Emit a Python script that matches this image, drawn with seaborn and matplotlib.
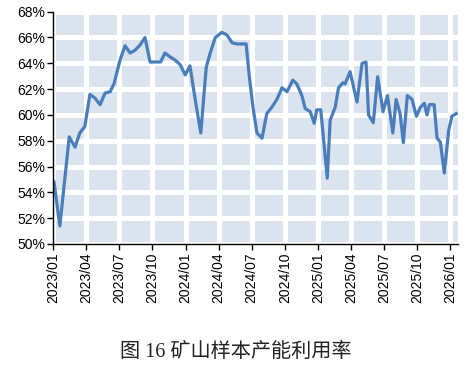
import pandas as pd
import matplotlib
matplotlib.use("Agg")
import matplotlib.pyplot as plt
import matplotlib.dates as mdates
from matplotlib.ticker import FuncFormatter
import seaborn as sns

# Values (weekly series, %)
dates = [
    "2023-01-03", "2023-01-19", "2023-02-14", "2023-03-02", "2023-03-15", "2023-03-29",
    "2023-04-12", "2023-04-26", "2023-05-10", "2023-05-24", "2023-06-07", "2023-06-18",
    "2023-07-04", "2023-07-18", "2023-08-01", "2023-08-14", "2023-08-28", "2023-09-11",
    "2023-09-25", "2023-10-08", "2023-10-24", "2023-11-05", "2023-11-19", "2023-12-03",
    "2023-12-17", "2023-12-31", "2024-01-13", "2024-01-27", "2024-02-12", "2024-02-27",
    "2024-03-09", "2024-03-23", "2024-04-10", "2024-04-24", "2024-05-08", "2024-05-22",
    "2024-06-02", "2024-06-16", "2024-06-25", "2024-07-05", "2024-07-16", "2024-07-30",
    "2024-08-12", "2024-08-26", "2024-09-09", "2024-09-23", "2024-10-07", "2024-10-23",
    "2024-11-03", "2024-11-17", "2024-11-26", "2024-12-10", "2024-12-21", "2024-12-28",
    "2025-01-08", "2025-01-26", "2025-02-03", "2025-02-17", "2025-02-26", "2025-03-10",
    "2025-03-16", "2025-03-30", "2025-04-18", "2025-05-02", "2025-05-13", "2025-05-20",
    "2025-06-02", "2025-06-14", "2025-06-29", "2025-07-11", "2025-07-26", "2025-08-04",
    "2025-08-15", "2025-08-24", "2025-09-04", "2025-09-17", "2025-09-29", "2025-10-10",
    "2025-10-21", "2025-10-28", "2025-11-04", "2025-11-17", "2025-11-25", "2025-12-04",
    "2025-12-15", "2025-12-27", "2026-01-05", "2026-01-17",
]
rate = [
    54.8, 51.4, 58.3, 57.5, 58.6, 59.1,
    61.6, 61.3, 60.8, 61.7, 61.8, 62.45,
    64.25, 65.36, 64.8, 65.0, 65.4, 66.0,
    64.1, 64.1, 64.1, 64.8, 64.5, 64.25,
    63.9, 63.1, 63.8, 61.3, 58.6, 63.7,
    64.8, 66.0, 66.4, 66.2, 65.6, 65.5,
    65.5, 65.5, 62.96, 60.6, 58.6, 58.2,
    60.1, 60.6, 61.2, 62.1, 61.8, 62.7,
    62.4, 61.5, 60.5, 60.25, 59.35, 60.4,
    60.4, 55.1, 59.6, 60.6, 62.1, 62.5,
    62.4, 63.35, 61.0, 64.0, 64.1, 60.0,
    59.4, 62.96, 60.25, 61.5, 58.6, 61.2,
    60.1, 57.85, 61.5, 61.2, 59.9, 60.6,
    60.9, 60.0, 60.8, 60.8, 58.2, 57.9,
    55.5, 58.8, 59.9, 60.1,
]
yticks = list(range(50, 70, 2))
caption = "图 16 矿山样本产能利用率"

df = pd.DataFrame({"date": pd.to_datetime(dates), "rate": rate})

fig = plt.figure(figsize=(4.66, 3.77), dpi=100)
ax = fig.add_axes([0.1144, 0.3528, 0.8686, 0.6162])
ax.set_facecolor("#dbe3ef")

sns.lineplot(data=df, x="date", y="rate", ax=ax, color="#4a7ebb", linewidth=2.3, zorder=3)

ax.set_ylim(50, 68)
ax.set_yticks(yticks)
ax.yaxis.set_major_formatter(FuncFormatter(lambda v, p: f"{v:.0f}%"))
ax.set_xlim(pd.Timestamp("2023-01-01"), pd.Timestamp("2026-01-22"))
ax.xaxis.set_major_locator(mdates.MonthLocator(bymonth=[1, 4, 7, 10]))
ax.xaxis.set_major_formatter(mdates.DateFormatter("%Y/%m"))

ax.grid(True, color="white", linewidth=3.6, zorder=1)
ax.set_axisbelow(True)
for s in ["top", "right"]:
    ax.spines[s].set_visible(False)
for s in ["left", "bottom"]:
    ax.spines[s].set_color("black")
    ax.spines[s].set_linewidth(1.0)
    ax.spines[s].set_zorder(4)

ax.tick_params(axis="y", direction="out", length=4, width=1, labelsize=10, pad=2)
ax.tick_params(axis="x", direction="out", length=4, width=1, labelsize=10, pad=2, rotation=90)
for lab in ax.get_xticklabels() + ax.get_yticklabels():
    lab.set_fontfamily("Liberation Sans")
ax.set_xlabel("")
ax.set_ylabel("")

fig.text(0.505, 0.066, caption, ha="center", va="center", fontsize=14.5,
         family=["Liberation Serif", "Noto Sans CJK SC"], color="#222222")

fig.savefig("out.png", dpi=100)
